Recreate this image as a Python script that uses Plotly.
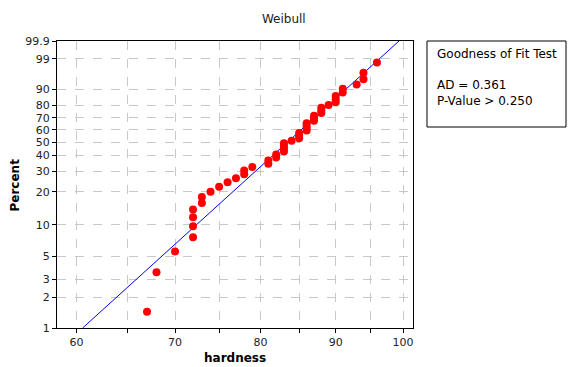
import numpy as np
import plotly.graph_objects as go

# Hardness measurements (n = 48), sorted
hardness = [67, 68, 70, 72, 72, 72, 72, 73, 73, 74, 75, 76, 77, 78, 78, 79,
            81, 81, 82, 82, 83, 83, 83, 83, 84, 85, 85, 85, 86, 86, 86, 86,
            87, 87, 87, 88, 88, 88, 89, 90, 90, 90, 91, 91, 93, 94, 94, 96]

# Fitted Weibull parameters
shape = 13.2
scale = 85.84

# Axis ticks
percent_ticks = [1, 2, 3, 5, 10, 20, 30, 40, 50, 60, 70, 80, 90, 99, 99.9]
percent_labels = ["1", "2", "3", "5", "10", "20", "30", "40", "50", "60",
                  "70", "80", "90", "99", "99.9"]
x_ticks = [60, 65, 70, 75, 80, 85, 90, 95, 100]
x_labels = ["60", "", "70", "", "80", "", "90", "", "100"]

# Goodness-of-fit text
ad_value = "0.361"
p_value = "0.250"


def weibull_y(p_percent):
    p = np.asarray(p_percent, dtype=float) / 100.0
    return np.log(-np.log(1.0 - p))


# Median-rank (Benard) plotting positions
n = len(hardness)
ranks = np.arange(1, n + 1)
pct = (ranks - 0.3) / (n + 0.4) * 100.0

# Fitted line from 1% to 99.9%
line_p = np.array([1.0, 99.9])
line_x = scale * (-np.log(1.0 - line_p / 100.0)) ** (1.0 / shape)

fig = go.Figure()
fig.add_trace(go.Scatter(
    x=line_x, y=weibull_y(line_p), mode="lines",
    line=dict(color="#0000FF", width=1), hoverinfo="skip", showlegend=False))
fig.add_trace(go.Scatter(
    x=hardness, y=weibull_y(pct), mode="markers",
    marker=dict(color="#FF0000", size=8, line=dict(width=0)),
    showlegend=False))

tick_font = dict(family="DejaVu Sans, Verdana, sans-serif", size=11, color="#222")
grid = dict(showgrid=True, gridcolor="#c8c8c8", griddash="dash", gridwidth=1)

fig.update_xaxes(
    type="log", range=[np.log10(58.2), np.log10(101.57)],
    tickvals=x_ticks, ticktext=x_labels, ticks="outside", ticklen=4,
    tickcolor="black", showline=True, linecolor="black", linewidth=1,
    mirror=True, zeroline=False, tickfont=tick_font, **grid)
fig.update_yaxes(
    range=[weibull_y(1.0), weibull_y(99.9)],
    tickvals=weibull_y(percent_ticks), ticktext=percent_labels,
    ticks="outside", ticklen=4, tickcolor="black", showline=True,
    linecolor="black", linewidth=1, mirror=True, zeroline=False,
    tickfont=tick_font, **grid)

label_font = dict(family="DejaVu Sans, Verdana, sans-serif", size=12, color="black")

fig.update_layout(
    width=571, height=367,
    margin=dict(l=57, r=158, t=41, b=39),
    paper_bgcolor="white", plot_bgcolor="white",
    title=dict(text="Weibull", x=0.497, xanchor="center", y=0.95, yanchor="middle",
               font=dict(family="DejaVu Sans, Verdana, sans-serif", size=12, color="#222")),
    annotations=[
        dict(text="<b>hardness</b>", xref="paper", yref="paper", x=0.5, y=-0.105,
             xanchor="center", yanchor="middle", showarrow=False, font=label_font),
        dict(text="<b>Percent</b>", xref="paper", yref="paper", x=-0.118, y=0.5,
             xanchor="center", yanchor="middle", textangle=-90, showarrow=False,
             font=label_font),
        dict(text="Goodness of Fit Test<br><br>AD = " + ad_value +
             "<br>P-Value &gt; " + p_value,
             xref="paper", yref="paper", x=1.062, y=0.985, xanchor="left",
             yanchor="top", align="left", showarrow=False,
             font=dict(family="DejaVu Sans, Verdana, sans-serif", size=12, color="black")),
    ],
    shapes=[
        dict(type="rect", xref="paper", yref="paper", x0=1.0393, x1=1.4298,
             y0=0.7003, y1=1.0, line=dict(color="black", width=1),
             fillcolor="white", layer="below"),
    ],
)

fig.write_html("out.html")
